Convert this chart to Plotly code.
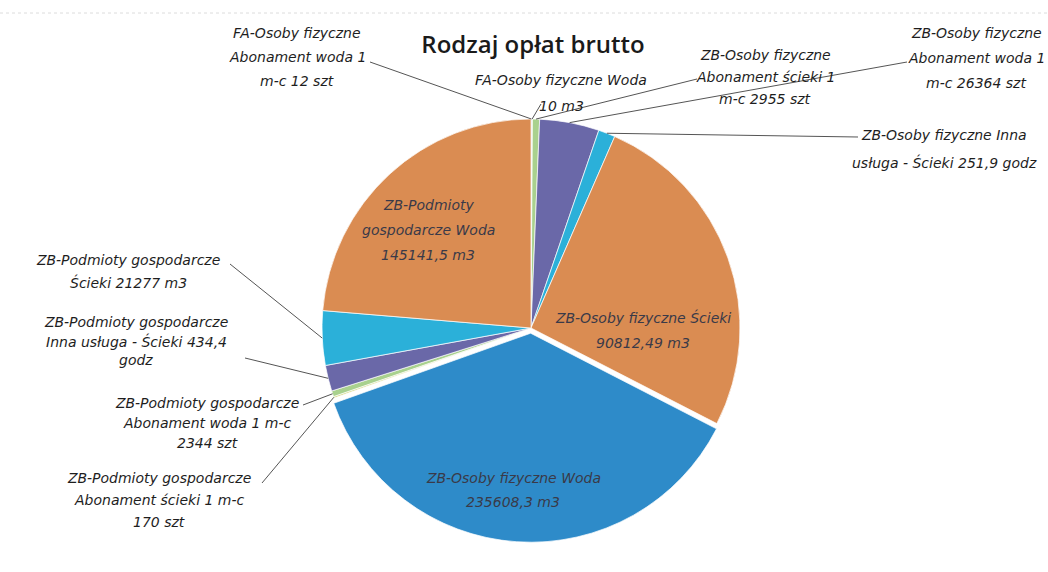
import math
import plotly.graph_objects as go

W, H = 1048, 572

# rodzaje opłat (kolejność jak w tabeli źródłowej, alfabetycznie)
rodzaje = [
    "FA-Osoby fizyczne Abonament woda 1 m-c",
    "FA-Osoby fizyczne Woda",
    "ZB-Osoby fizyczne Abonament ścieki 1 m-c",
    "ZB-Osoby fizyczne Abonament woda 1 m-c",
    "ZB-Osoby fizyczne Inna usługa - Ścieki",
    "ZB-Osoby fizyczne Ścieki",
    "ZB-Osoby fizyczne Woda",
    "ZB-Podmioty gospodarcze Abonament ścieki 1 m-c",
    "ZB-Podmioty gospodarcze Abonament woda 1 m-c",
    "ZB-Podmioty gospodarcze Inna usługa - Ścieki",
    "ZB-Podmioty gospodarcze Ścieki",
    "ZB-Podmioty gospodarcze Woda",
]
ilosci = ["12 szt", "10 m3", "2955 szt", "26364 szt", "251,9 godz", "90812,49 m3",
          "235608,3 m3", "170 szt", "2344 szt", "434,4 godz", "21277 m3", "145141,5 m3"]

udzial = [0.06, 0.05, 0.55, 4.6, 1.3, 26.0, 37.0, 0.12, 0.45, 2.0, 4.2, 23.67]

# etykiety podzielone na linie tak jak na oryginale
linie_etykiet = [
    ["FA-Osoby fizyczne", "Abonament woda 1", "m-c 12 szt"],
    ["FA-Osoby fizyczne Woda", "10 m3"],
    ["ZB-Osoby fizyczne", "Abonament ścieki 1", "m-c 2955 szt"],
    ["ZB-Osoby fizyczne", "Abonament woda 1", "m-c 26364 szt"],
    ["ZB-Osoby fizyczne Inna", "usługa - Ścieki 251,9 godz"],
    ["ZB-Osoby fizyczne Ścieki", "90812,49 m3"],
    ["ZB-Osoby fizyczne Woda", "235608,3 m3"],
    ["ZB-Podmioty gospodarcze", "Abonament ścieki 1 m-c", "170 szt"],
    ["ZB-Podmioty gospodarcze", "Abonament woda 1 m-c", "2344 szt"],
    ["ZB-Podmioty gospodarcze", "Inna usługa - Ścieki 434,4", "godz"],
    ["ZB-Podmioty gospodarcze", "Ścieki 21277 m3"],
    ["ZB-Podmioty", "gospodarcze Woda", "145141,5 m3"],
]

kolory = ["#2E8BC9", "#D2D37A", "#A9D18E", "#6A68A8", "#2BB0D9", "#DA8C52"] * 2
wysuniecie = [0, 0, 0, 0, 0, 0, 0.025, 0, 0, 0, 0, 0]

# geometria koła (px od lewego górnego rogu)
CX, CY, R = 531, 328, 209
maks_wys = max(wysuniecie)
bok = R * (1 + maks_wys)

# położenie etykiet: środek pierwszej linii, odstęp linii, początek linii odniesienia
pozycje = [
    dict(x=297, y=33, dy=24, lx=370, ly=62),
    dict(x=561, y=80, dy=26, lx=541, ly=104),
    dict(x=765, y=55, dy=22, lx=697, ly=79),
    dict(x=976, y=33, dy=25, lx=907, ly=62),
    dict(x=944, y=135, dy=27, lx=858, ly=137),
    dict(x=643, y=317, dy=26),
    dict(x=513, y=478, dy=24),
    dict(x=159, y=478, dy=22, lx=262, ly=483),
    dict(x=207, y=403, dy=20, lx=303, ly=405),
    dict(x=136, y=322, dy=19, lx=245, ly=358),
    dict(x=128, y=260, dy=22, lx=230, ly=264),
    dict(x=428, y=205, dy=25),
]

font_opis = dict(family="DejaVu Sans", size=14, style="italic")

fig = go.Figure()

fig.add_trace(go.Pie(
    labels=rodzaje,
    values=udzial,
    hovertext=[r + " " + q for r, q in zip(rodzaje, ilosci)],
    hoverinfo="text+percent",
    sort=False,
    direction="clockwise",
    rotation=0,
    pull=wysuniecie,
    textinfo="none",
    marker=dict(colors=kolory, line=dict(color="white", width=0.7)),
    showlegend=False,
    domain=dict(x=[(CX - bok) / W, (CX + bok) / W],
                y=[1 - (CY + bok) / H, 1 - (CY - bok) / H]),
))

annotations = []
shapes = []
suma = sum(udzial)
narast = 0
for i, v in enumerate(udzial):
    kat = math.radians(360 * (narast + v / 2) / suma)
    narast += v
    p = pozycje[i]
    wewn = "lx" not in p
    for j, tekst in enumerate(linie_etykiet[i]):
        annotations.append(dict(
            text=tekst, x=p["x"] / W, y=1 - (p["y"] + j * p["dy"]) / H,
            xref="paper", yref="paper", xanchor="center", yanchor="middle",
            showarrow=False,
            font=dict(font_opis, color="#3a3a48" if wewn else "#1e1e1e"),
        ))
    if not wewn:
        # koniec linii na obwodzie wycinka
        tx = CX + R * math.sin(kat)
        ty = CY - R * math.cos(kat)
        shapes.append(dict(
            type="line", xref="paper", yref="paper",
            x0=p["lx"] / W, y0=1 - p["ly"] / H, x1=tx / W, y1=1 - ty / H,
            line=dict(color="#555555", width=1),
        ))

# ślad skanera u góry strony
shapes.append(dict(type="line", xref="paper", yref="paper", x0=0, x1=1,
                   y0=1 - 13 / H, y1=1 - 13 / H,
                   line=dict(color="#dcdcdc", width=1, dash="dot")))

fig.update_layout(
    width=W,
    height=H,
    margin=dict(l=0, r=0, t=0, b=0),
    paper_bgcolor="white",
    plot_bgcolor="white",
    title=dict(text="Rodzaj opłat brutto", x=533 / W, y=1 - 45 / H,
               xanchor="center", yanchor="middle",
               font=dict(family="Open Sans", size=24, weight=600, color="#1a1a1a")),
    annotations=annotations,
    shapes=shapes,
)

# bez domyślnego marginesu strony, żeby wykres zaczynał się w rogu okna
fig.write_html("out.html", config={"displayModeBar": False},
               post_script="document.body.style.margin='0px';")
